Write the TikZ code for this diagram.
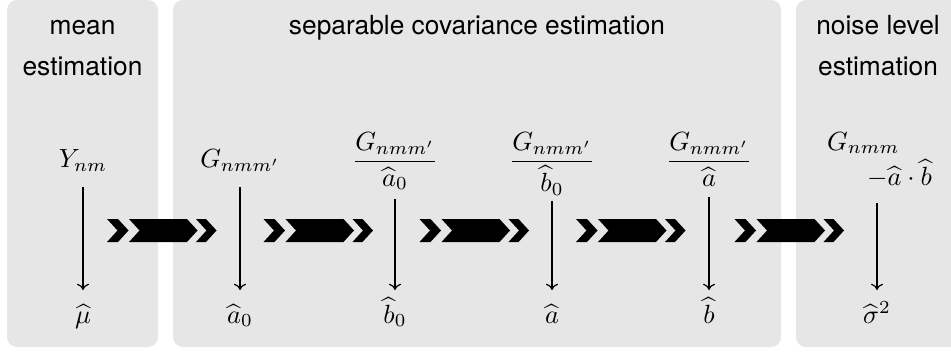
\documentclass[tikz,border=0pt]{standalone}
\usepackage{amsmath}
\usepackage{fontspec}
\setsansfont{TeX Gyre Heros}
\usetikzlibrary{arrows.meta}
\definecolor{boxgray}{RGB}{230,230,230}
\tikzset{
  panel/.style={fill=boxgray, draw=none, rounded corners=3.8pt},
  heading/.style={font=\fontsize{10pt}{15.6pt}\selectfont\sffamily, align=center, anchor=base, inner sep=0pt},
  mnode/.style={anchor=base, inner sep=0pt},
  varrow/.style={line width=0.45pt, -{To[length=2.4pt,width=4.6pt]}},
  chevarrow/.pic={
    \fill[black] (-54.5,-11.5) -- (-43.5,-11.5) -- (-33,0) -- (-43.5,11.5) -- (-54.5,11.5) -- (-44,0) -- cycle;
    \fill[black] (-32.5,-11.5) -- (25.5,-11.5) -- (36,0) -- (25.5,11.5) -- (-32.5,11.5) -- (-22,0) -- cycle;
    \fill[black] (34.5,-11.5) -- (44.5,-11.5) -- (55,0) -- (44.5,11.5) -- (34.5,11.5) -- (45,0) -- cycle;
  },
}
\begin{document}
\begin{tikzpicture}[x=0.38pt,y=-0.38pt]
\useasboundingbox (0,0) rectangle (951,352);
% panels
\fill[panel] (7,0) rectangle (158,347);
\fill[panel] (173,0) rectangle (781,347);
\fill[panel] (796,0) rectangle (962,347);
% headings (base anchor = last line)
\node[heading] (h1) at (82.5,76) {mean\\estimation};
\node[heading] (h2) at (477,35) {separable covariance estimation};
\node[heading] (h3) at (878,76) {noise level\\estimation};
% top row
\node[mnode] (Y) at (83,168) {$Y_{nm}$};
\node[mnode] (G1) at (240,168) {$G_{nmm'}$};
\node[mnode] (F1) at (395,168) {$\dfrac{G_{nmm'}}{\widehat{a}_0}$};
\node[mnode] (F2) at (552,168) {$\dfrac{G_{nmm'}}{\widehat{b}_0}$};
\node[mnode] (F3) at (709,168) {$\dfrac{G_{nmm'}}{\widehat{a}}$};
\node[mnode] (N) at (879.5,168) {$\begin{array}{@{}l@{}}G_{nmm}\\\hspace{15.2pt}-\widehat{a}\cdot\widehat{b}\end{array}$};
% bottom row
\node[mnode] (mu) at (83,323) {$\widehat{\mu}$};
\node[mnode] (a0) at (240,323) {$\widehat{a}_0$};
\node[mnode] (b0) at (395,323) {$\widehat{b}_0$};
\node[mnode] (a) at (552,323) {$\widehat{a}$};
\node[mnode] (b) at (709,323) {$\widehat{b}$};
\node[mnode] (s2) at (877,323) {$\widehat{\sigma}^2$};
% arrow levels
\coordinate (sA) at (0,187);
\coordinate (sB) at (0,199);
\coordinate (sC) at (0,201);
\coordinate (sD) at (0,197);
\coordinate (sE) at (0,203);
\coordinate (eR) at (0,290);
\draw[varrow] (Y |- sA) -- (Y |- eR);
\draw[varrow] (G1 |- sA) -- (G1 |- eR);
\draw[varrow] (F1 |- sB) -- (F1 |- eR);
\draw[varrow] (F2 |- sC) -- (F2 |- eR);
\draw[varrow] (F3 |- sD) -- (F3 |- eR);
\draw[varrow] (s2 |- sE) -- (s2 |- eR);
% chevron arrows
\pic at (161.5,230.5) {chevarrow};
\pic at (318,230.5) {chevarrow};
\pic at (474,230.5) {chevarrow};
\pic at (630.5,230.5) {chevarrow};
\pic at (789,230.5) {chevarrow};
\end{tikzpicture}
\end{document}
